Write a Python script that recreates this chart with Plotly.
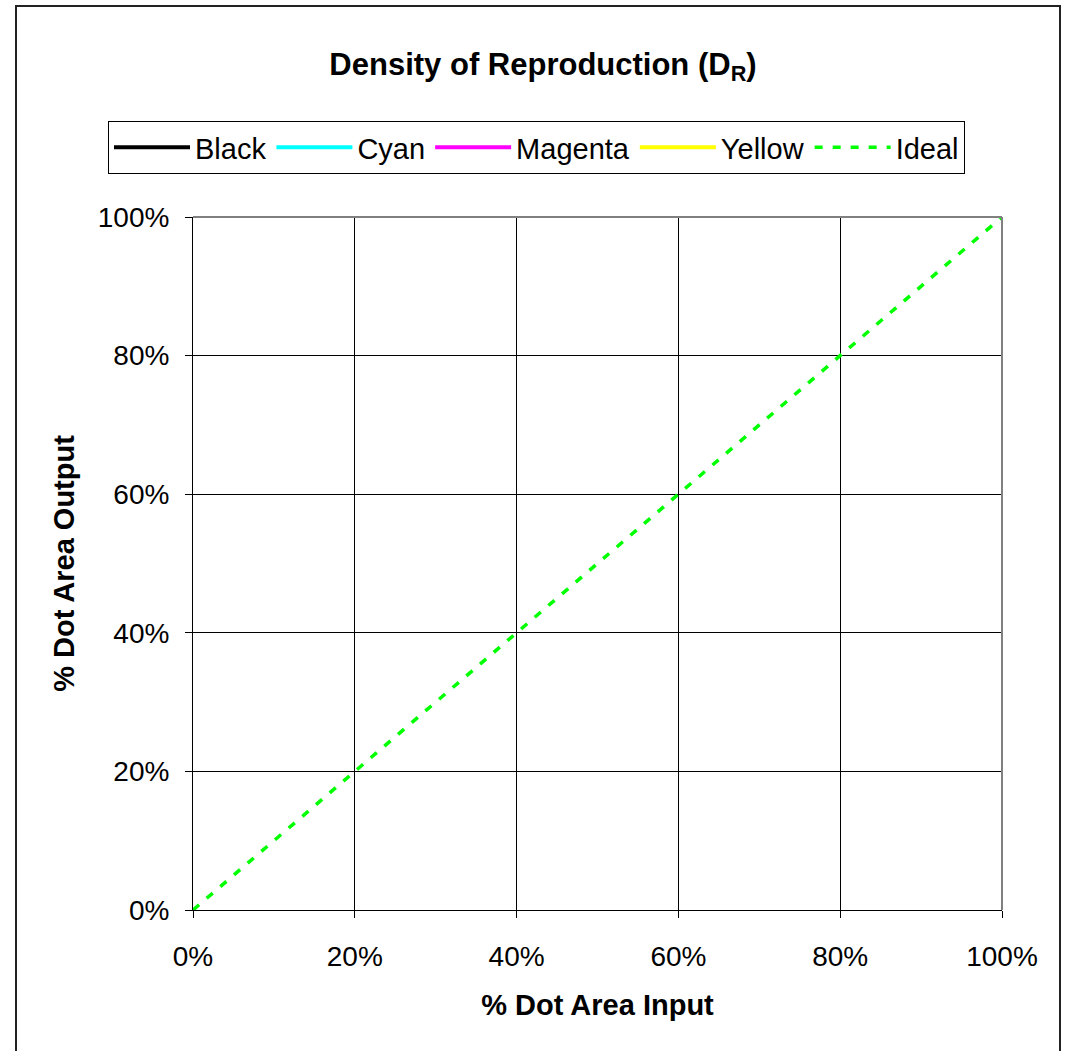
import plotly.graph_objects as go

series_names = ["Black", "Cyan", "Magenta", "Yellow"]
series_colors = ["#000000", "#00FFFF", "#FF00FF", "#FFFF00"]
ideal_x = [0.0, 0.1, 0.2, 0.3, 0.4, 0.5, 0.6, 0.7, 0.8, 0.9, 1.0]
ideal_y = [0.0, 0.1, 0.2, 0.3, 0.4, 0.5, 0.6, 0.7, 0.8, 0.9, 1.0]
tick_vals = [0.0, 0.2, 0.4, 0.6, 0.8, 1.0]
tick_text = ["0%", "20%", "40%", "60%", "80%", "100%"]

W, H = 1066, 1051
L, R, T, B = 193, 64, 217, 141
pw, ph = W - L - R, H - T - B

def px(xp):
    return (xp - L) / pw

def py(yp):
    return (H - B - yp) / ph

FONT = "Liberation Sans, Arial, sans-serif"

fig = go.Figure()
for name, col in zip(series_names, series_colors):
    fig.add_trace(go.Scatter(x=[None], y=[None], mode="lines", name=name,
                             line=dict(color=col, width=4)))
fig.add_trace(go.Scatter(x=ideal_x, y=ideal_y, mode="lines", name="Ideal",
                         line=dict(color="#00FF00", width=3.5, dash="8px,10px")))

axis_common = dict(
    range=[0, 1], tickvals=tick_vals, ticktext=tick_text,
    showgrid=True, gridcolor="#000000", gridwidth=1,
    showline=True, linecolor="#000000", linewidth=1,
    ticks="outside", ticklen=7, tickcolor="#000000",
    tickfont=dict(family=FONT, size=28, color="#000000"),
    zeroline=False, fixedrange=True,
)

fig.update_layout(
    width=W, height=H,
    margin=dict(l=L, r=R, t=T, b=B, autoexpand=False),
    paper_bgcolor="white", plot_bgcolor="white",
    showlegend=True,
    title=dict(text="<b>Density of Reproduction (D<sub>R</sub>)</b>",
               x=543 / W, xanchor="center", y=1 - 64 / H, yanchor="middle",
               yref="container", xref="container",
               font=dict(family=FONT, size=31, color="#000000")),
    legend=dict(orientation="h", x=px(108), xanchor="left", y=py(121), yanchor="top",
                bordercolor="#000000", borderwidth=1, bgcolor="white",
                font=dict(family=FONT, size=29, color="#000000"),
                itemwidth=76, tracegroupgap=0),
    xaxis=dict(**axis_common, ticklabelstandoff=14,
               title=dict(text="<b>% Dot Area Input</b>", standoff=24,
                          font=dict(family=FONT, size=29, color="#000000"))),
    yaxis=dict(**axis_common, ticklabelstandoff=10,
               title=dict(text="<b>% Dot Area Output</b>", standoff=14,
                          font=dict(family=FONT, size=29, color="#000000"))),
    shapes=[
        dict(type="line", xref="paper", yref="paper", x0=0, x1=1, y0=1, y1=1,
             line=dict(color="#808080", width=2), layer="above"),
        dict(type="line", xref="paper", yref="paper", x0=1, x1=1, y0=0, y1=1,
             line=dict(color="#808080", width=2), layer="above"),
        dict(type="rect", xref="paper", yref="paper",
             x0=px(16), x1=px(1060), y0=py(6), y1=py(1060),
             line=dict(color="#222222", width=2), layer="above"),
    ],
)

fig.write_html("out.html", config={"displayModeBar": False},
               post_script="document.body.style.margin='0';")
